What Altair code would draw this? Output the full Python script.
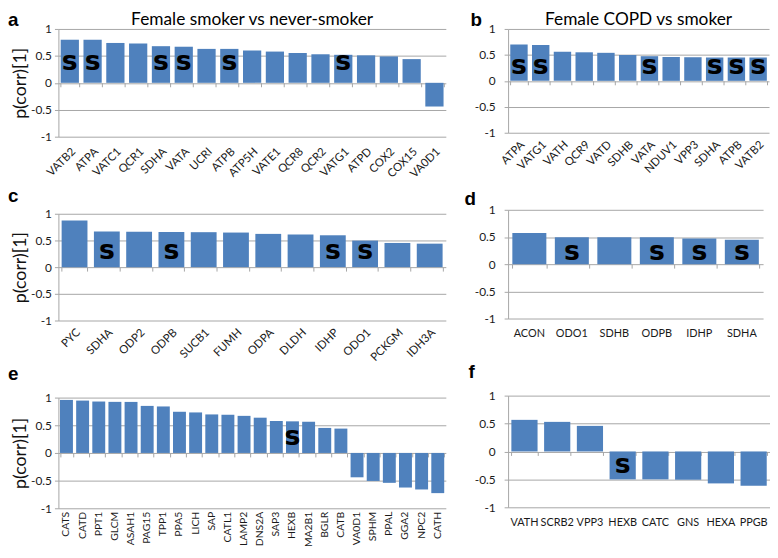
import altair as alt
import pandas as pd

# ---------------- data ----------------
panel_letters = ["a", "b", "c", "d", "e", "f"]
title_a = "Female smoker vs never-smoker"
title_b = "Female COPD vs smoker"
y_axis_title = "p(corr)[1]"
mark_symbol = "s"

a_genes = ["VATB2", "ATPA", "VATC1", "QCR1", "SDHA", "VATA", "UCRI", "ATPB", "ATP5H",
           "VATE1", "QCR8", "QCR2", "VATG1", "ATPD", "COX2", "COX15", "VA0D1"]
a_values = [0.80, 0.80, 0.74, 0.73, 0.68, 0.67, 0.63, 0.63, 0.60,
            0.58, 0.555, 0.53, 0.52, 0.51, 0.49, 0.44, -0.44]
a_marked = ["VATB2", "ATPA", "SDHA", "VATA", "ATPB", "VATG1"]

b_genes = ["ATPA", "VATG1", "VATH", "QCR9", "VATD", "SDHB", "VATA", "NDUV1", "VPP3",
           "SDHA", "ATPB", "VATB2"]
b_values = [0.70, 0.69, 0.56, 0.55, 0.54, 0.50, 0.475, 0.46, 0.455, 0.45, 0.45, 0.45]
b_marked = ["ATPA", "VATG1", "VATA", "SDHA", "ATPB", "VATB2"]

c_genes = ["PYC", "SDHA", "ODP2", "ODPB", "SUCB1", "FUMH", "ODPA", "DLDH", "IDHP",
           "ODO1", "PCKGM", "IDH3A"]
c_values = [0.875, 0.67, 0.665, 0.66, 0.655, 0.648, 0.623, 0.61, 0.597, 0.497, 0.453, 0.44]
c_marked = ["SDHA", "ODPB", "IDHP", "ODO1"]

d_genes = ["ACON", "ODO1", "SDHB", "ODPB", "IDHP", "SDHA"]
d_values = [0.575, 0.497, 0.497, 0.497, 0.473, 0.45]
d_marked = ["ODO1", "ODPB", "IDHP", "SDHA"]

e_genes = ["CATS", "CATD", "PPT1", "GLCM", "ASAH1", "PAG15", "TPP1", "PPA5", "LICH", "SAP",
           "CATL1", "LAMP2", "DNS2A", "SAP3", "HEXB", "MA2B1", "BGLR", "CATB", "VA0D1",
           "SPHM", "PPAL", "GGA2", "NPC2", "CATH"]
e_values = [0.958, 0.946, 0.929, 0.923, 0.922, 0.85, 0.84, 0.744, 0.732, 0.696,
            0.69, 0.67, 0.637, 0.577, 0.571, 0.565, 0.452, 0.44, -0.44,
            -0.506, -0.54, -0.625, -0.66, -0.726]
e_marked = ["HEXB"]

f_genes = ["VATH", "SCRB2", "VPP3", "HEXB", "CATC", "GNS", "HEXA", "PPGB"]
f_values = [0.566, 0.53, 0.458, -0.50, -0.50, -0.506, -0.572, -0.614]
f_marked = ["HEXB"]

y_ticks = [-1, -0.5, 0, 0.5, 1]

# ---------------- style ----------------
FONT = "Lato"
BAR = "#4F81BD"
GRID = "#A6A6A6"
LABEL = "#1a1a1a"


def make_yaxis(y_title, y_label_pad):
    kw = dict(values=y_ticks, labelExpr="datum.value + ''",
              labelFont=FONT, labelFontSize=12, labelColor=LABEL,
              labelPadding=y_label_pad, grid=True, gridColor=GRID,
              domainColor=GRID, tickColor=GRID, tickSize=4)
    if y_title:
        kw.update(title=y_axis_title, titleFont=FONT, titleFontSize=18,
                  titleFontWeight="normal", titleColor="#111", titlePadding=1)
    else:
        kw.update(title=None)
    return alt.Axis(**kw)


def panel(genes, values, marked, letter, title, width, height, label_angle,
          label_size, label_pad, s_y, letter_x, letter_y, y_title, y_label_pad):
    df = pd.DataFrame({"gene": genes, "value": values})
    df["mark"] = [mark_symbol if g in marked else "" for g in genes]
    xscale = alt.Scale(paddingInner=0.2, paddingOuter=0.1)
    yscale = alt.Scale(domain=[-1, 1], nice=False)
    base = alt.Chart(df)

    bars = base.mark_bar(color=BAR).encode(
        x=alt.X("gene:N", sort=genes, scale=xscale,
                axis=alt.Axis(orient="bottom", title=None, labelAngle=label_angle,
                              labelFont=FONT, labelFontSize=label_size,
                              labelColor=LABEL, labelPadding=label_pad,
                              ticks=False, domain=False, grid=False)),
        y=alt.Y("value:Q", scale=yscale, axis=make_yaxis(y_title, y_label_pad)),
    )

    s_text = base.transform_filter("datum.mark != ''").mark_text(
        font="DejaVu Sans", fontWeight="bold", fontSize=27,
        baseline="alphabetic", align="center", color="black"
    ).encode(
        x=alt.X("gene:N", sort=genes, scale=xscale,
                axis=alt.Axis(orient="bottom", offset=-height / 2, labels=False,
                              ticks=True, tickSize=4, tickColor=GRID,
                              tickBand="extent", domain=False, grid=False,
                              title=None)),
        y=alt.YDatum(s_y, scale=yscale, axis=make_yaxis(y_title, y_label_pad)),
        text="mark:N",
    )

    letter_layer = alt.Chart(pd.DataFrame({"t": [letter]})).mark_text(
        font="Liberation Sans", fontWeight="bold", fontSize=19, align="left",
        baseline="alphabetic", color="black"
    ).encode(text="t:N", x=alt.value(letter_x), y=alt.value(letter_y))

    layers = [bars, s_text, letter_layer]
    if title:
        title_layer = alt.Chart(pd.DataFrame({"t": [title]})).mark_text(
            font=FONT, fontSize=17.5, align="center", baseline="alphabetic",
            color="black"
        ).encode(text="t:N", x=alt.value(width / 2), y=alt.value(-4))
        layers.append(title_layer)

    return alt.layer(*layers).resolve_axis(x="independent", y="shared").properties(
        width=width, height=height)


pa = panel(a_genes, a_values, a_marked, panel_letters[0], title_a, 392, 109, -45, 11.5,
           9, 0.23, -51, -3, True, 3)
pc = panel(c_genes, c_values, c_marked, panel_letters[2], None, 392, 108, -45, 11.5,
           6, 0.145, -51, -12, True, 3)
pe = panel(e_genes, e_values, e_marked, panel_letters[4], None, 392, 112, -90, 10.5,
           3, 0.14, -51, -18, True, 3)

pb = panel(b_genes, b_values, b_marked, panel_letters[1], title_b, 264, 105, -45, 11.5,
           6, 0.13, -38, -3, False, 9)
pd_ = panel(d_genes, d_values, d_marked, panel_letters[3], None, 258, 110, 0, 11,
            9, 0.07, -44, -5, False, 9)
pf = panel(f_genes, f_values, f_marked, panel_letters[5], None, 265, 113, 0, 11,
           9, -0.38, -40, -18, False, 9)

col1 = alt.vconcat(pa, pc, pe, spacing=78, bounds="flush")
col2 = alt.vconcat(pb, pd_, pf, spacing=78, bounds="flush")

chart = alt.hconcat(col1, col2, spacing=19).properties(
    padding=0, background="white"
).configure_view(stroke=None)

chart.save("out.html", embed_options={"renderer": "svg", "actions": False})
